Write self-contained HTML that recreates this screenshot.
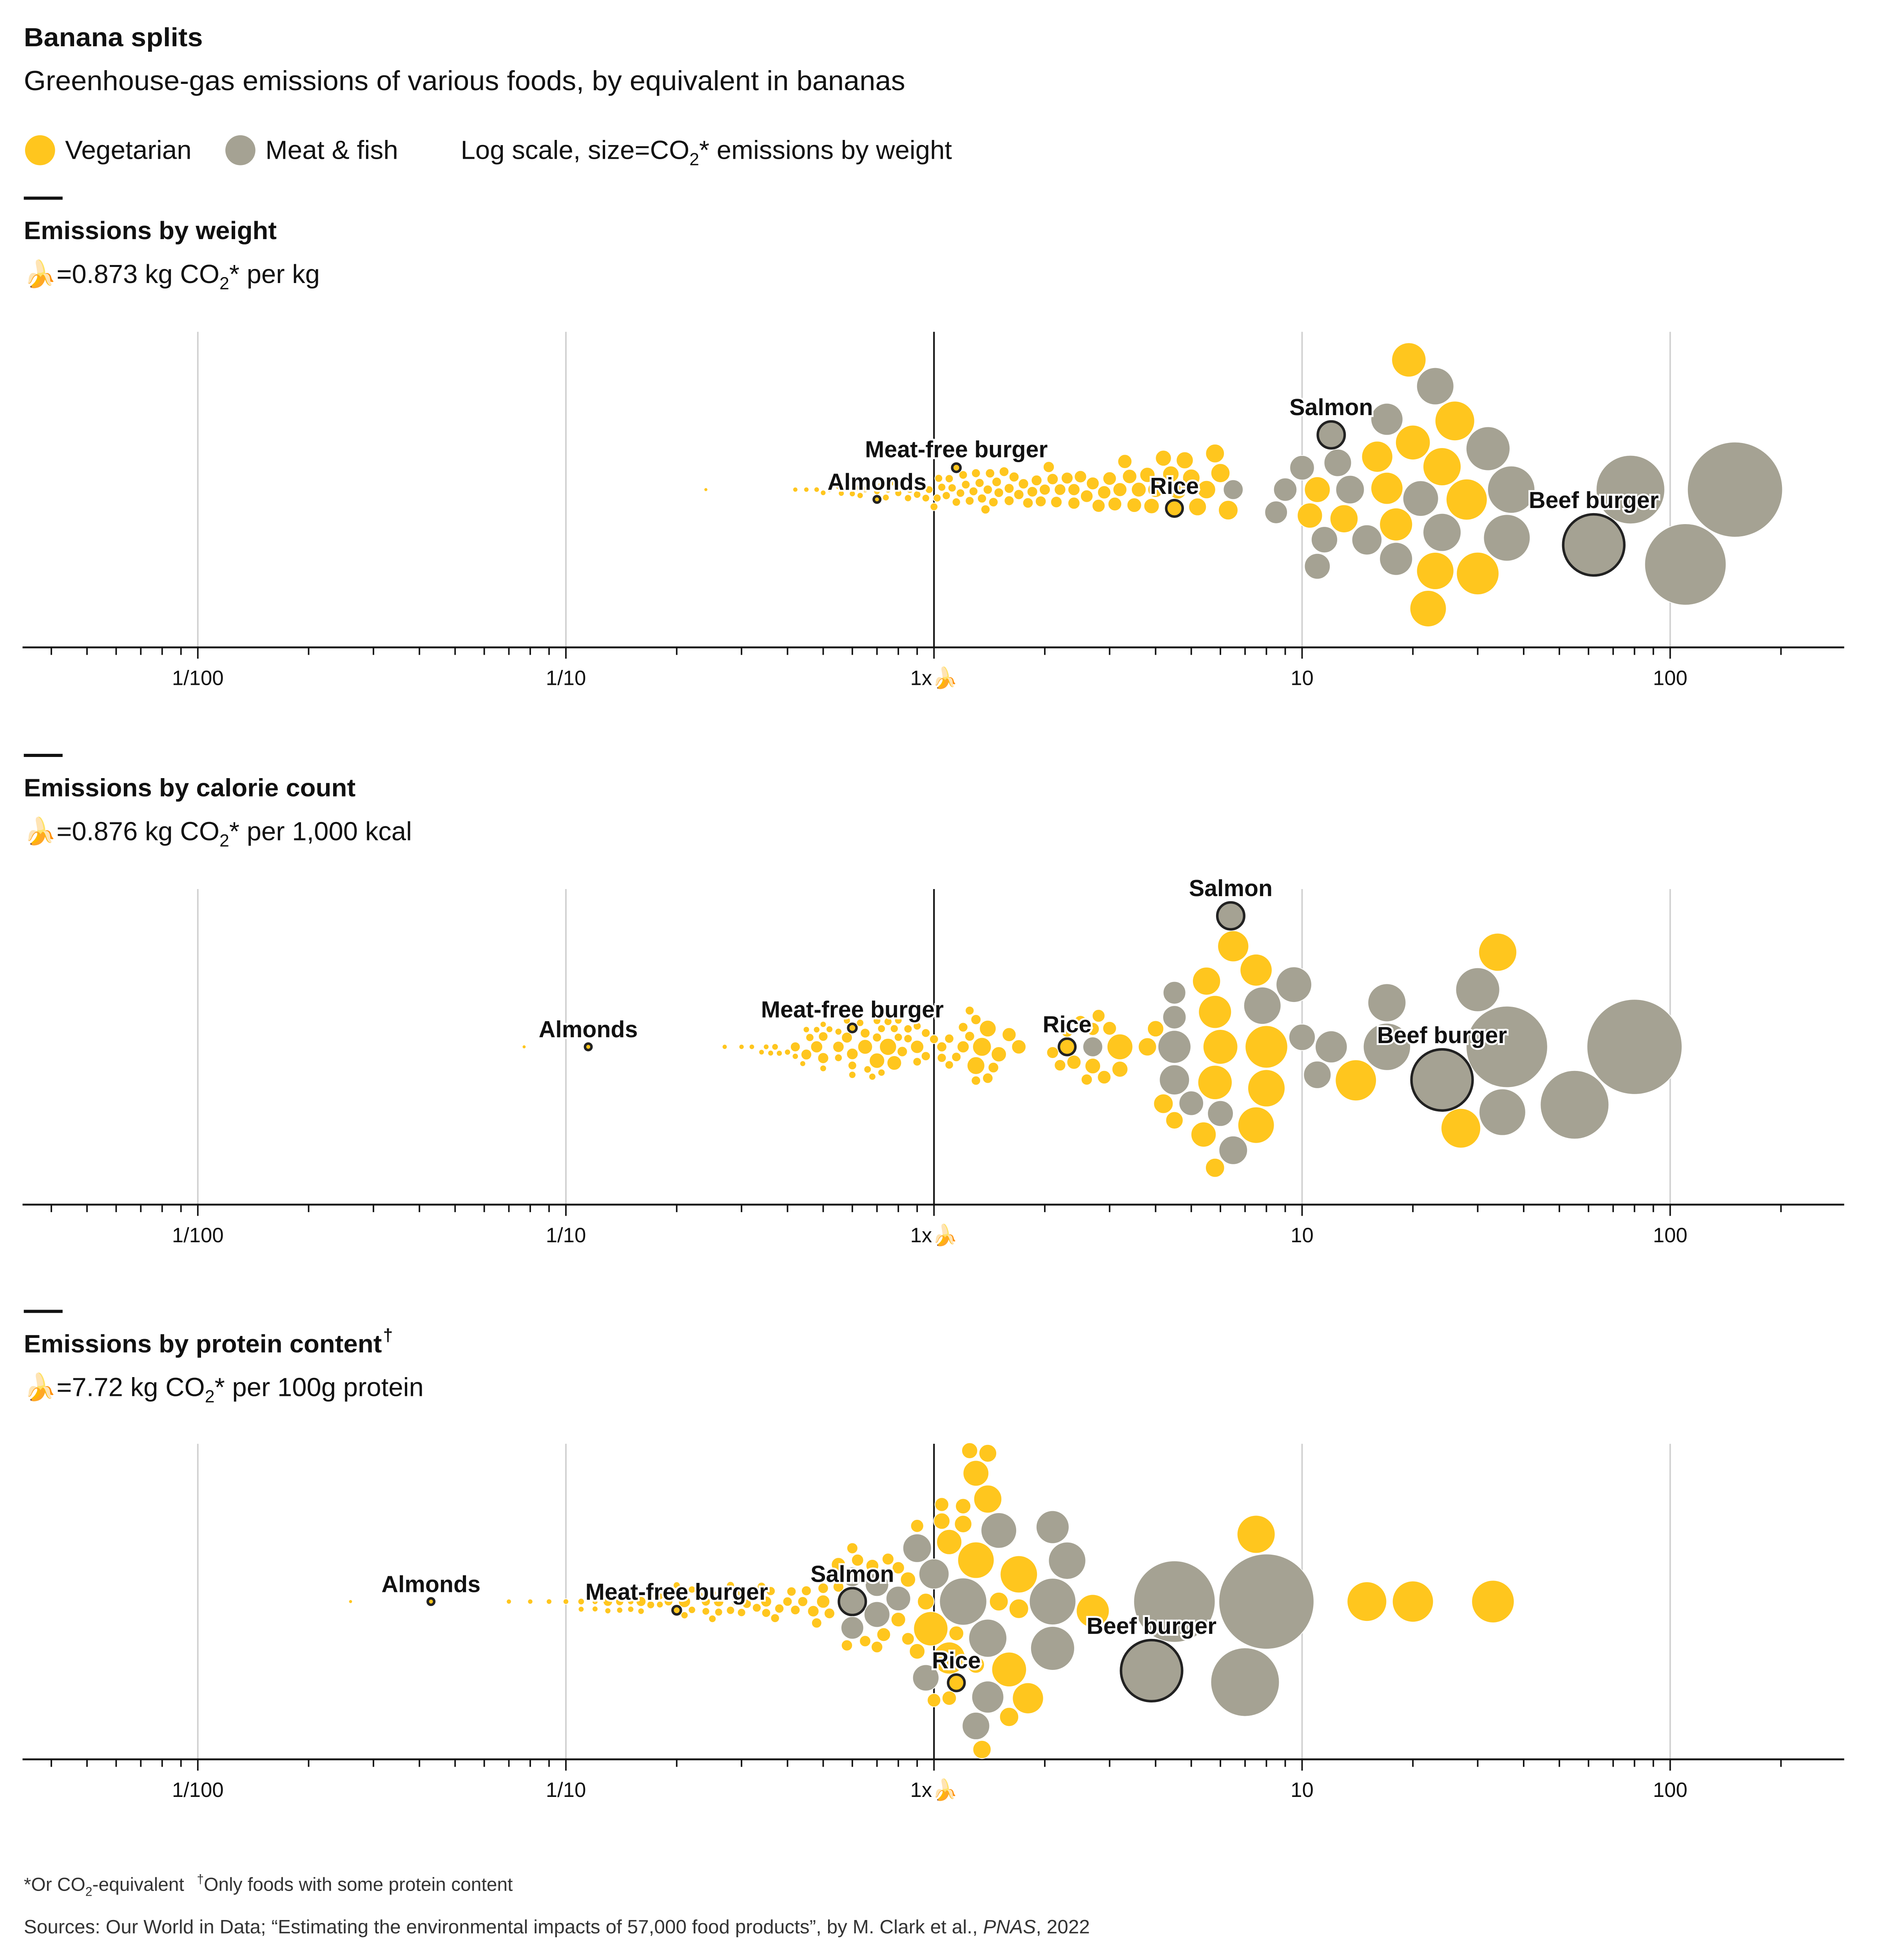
<!DOCTYPE html>
<html><head><meta charset="utf-8">
<style>
html,body{margin:0;padding:0;background:#fff;overflow:hidden;width:4792px;height:5012px;}
svg{display:block;position:absolute;left:0;top:0;font-family:"Liberation Sans Narrow","Liberation Sans",sans-serif;}
.t{font-weight:bold;fill:#111;}
</style></head>
<body>
<svg id="chart" width="4792" height="5012" viewBox="0 0 1500 1569" preserveAspectRatio="none" xmlns="http://www.w3.org/2000/svg" overflow="hidden">
<text x="19" y="37" class="t" font-size="21" textLength="143" lengthAdjust="spacingAndGlyphs">Banana splits</text>
<text x="19" y="72" font-size="22" fill="#111" textLength="704" lengthAdjust="spacingAndGlyphs">Greenhouse-gas emissions of various foods, by equivalent in bananas</text>
<g>
<circle cx="32" cy="120" r="12" fill="#FFC61E"/>
<text x="52" y="127" font-size="21" fill="#111" textLength="101" lengthAdjust="spacingAndGlyphs">Vegetarian</text>
<circle cx="192" cy="120" r="12" fill="#A5A293"/>
<text x="212" y="127" font-size="21" fill="#111" textLength="106" lengthAdjust="spacingAndGlyphs">Meat &amp; fish</text>
<text x="368" y="127" font-size="21" fill="#111">Log scale, size=CO<tspan font-size="14" dy="5">2</tspan><tspan dy="-5">* emissions by weight</tspan></text>
</g>
<g id="panels"></g>
<text x="19" y="1510" font-size="15" fill="#333">*Or CO<tspan font-size="10" dy="4">2</tspan><tspan dy="-4">-equivalent    </tspan><tspan dx="6" font-size="10" dy="-6">†</tspan><tspan dy="6">Only foods with some protein content</tspan></text>
<text x="19" y="1544" font-size="15.5" fill="#333">Sources: Our World in Data; “Estimating the environmental impacts of 57,000 food products”, by M. Clark et al., <tspan font-style="italic">PNAS</tspan>, 2022</text>
</svg>
<script>
const vegWeight = [0.24,0.42,0.45,0.48,0.52,0.55,0.58,0.6,0.62,0.65,0.68,0.72,0.75,0.78,0.8,0.85,0.88,0.9,0.95,1.0,1.02,1.05,1.1,1.12,1.2,1.25,1.3,1.35,1.4,1.45,1.5,1.6,1.7,1.8,1.9,2.0,2.1,2.2,2.3,2.5,2.6,2.8,3.0,3.2,3.4,3.6,3.9,4.2,4.8,5.2,5.8,6.0,6.3,10.5,11,13,16,17,18,19.5,20,22,23,24,26,28,30,
 0.5,0.56,0.63,0.7,0.74,0.82,0.86,0.92,0.97,1.03,1.08,1.15,1.18,1.22,1.28,1.33,1.38,1.42,1.48,1.55,1.65,1.75,1.85,1.95,2.05,2.15,2.4,2.7,2.9,3.1,3.3,3.5,3.8,4.0,4.4,4.6,5.0,5.5,1.6,2.4];
const vegCalorie = [0.077,0.27,0.3,0.32,0.35,0.36,0.38,0.4,0.42,0.45,0.48,0.5,0.52,0.55,0.58,0.6,0.63,0.66,0.7,0.72,0.75,0.78,0.8,0.85,0.9,0.95,1.0,1.05,1.1,1.15,1.2,1.25,1.3,1.4,0.45,0.5,0.55,0.6,2.1,2.3,2.5,2.7,2.9,1.6,1.7,0.65,0.7,3.2,0.75,1.3,1.35,5.8,4.2,5.4,3.2,5.5,6.5,7.5,5.8,5.8,6.0,7.5,8.0,34,27,14,8,
 0.34,0.44,0.5,0.37,0.62,0.68,0.72,0.8,0.55,0.9,0.46,0.85,1.1,0.6,1.25,0.7,0.95,1.3,0.5,0.65,1.05,0.82,1.45,0.58,2.6,2.2,1.2,2.8,0.9,3.0,2.4,0.78,1.5,2.7,4.0,1.4,4.5,3.8,0.42,0.48];
const vegProtein = [0.026,0.07,0.08,null,0.1,0.11,0.12,0.13,0.14,0.15,0.16,0.17,0.18,0.19,0.2,0.21,0.22,0.23,0.24,0.25,0.26,0.27,0.28,0.3,0.32,0.33,0.35,0.36,0.38,0.4,0.42,0.45,0.48,0.5,0.55,0.6,0.65,0.7,0.75,0.8,0.85,0.9,1.0,1.05,1.1,1.15,1.2,1.25,1.3,1.4,1.5,1.6,1.7,1.1,1.3,1.4,1.8,1.1,2.7,0.98,1.6,1.3,1.7,7.5,15,20,33,
 0.09,0.12,0.15,0.11,0.18,0.2,0.22,0.25,0.17,0.28,0.14,0.3,0.34,0.19,0.37,0.24,0.31,0.41,0.13,0.29,0.44,0.26,0.52,0.35,0.58,0.47,0.62,0.68,0.5,0.73,0.55,0.8,0.85,0.9,1.05,0.95,1.2,1.35,0.16,0.21];
const meatWeight = [6.5,8.5,9,10,11,11.5,12.5,13.5,15,17,18,21,23,24,32,36,37,78,110,150];
const meatCalorie = [2.7,4.5,4.5,5,6,10,11,6.5,4.5,12,4.5,9.5,7.8,17,30,35,17,55,36,80];
const meatProtein = [0.6,0.6,0.7,0.8,0.7,0.95,1.3,0.9,1.0,1.4,2.1,1.5,2.3,1.4,2.1,2.1,1.2,7,4.5,8];
const namedFoods = ["Almonds","Meat-free burger","Rice","Salmon","Beef burger"];
const namedType = ["v","v","v","m","m"];
const namedWeight = [0.7,1.15,4.5,12,62];
const namedCalorie = [0.115,0.6,2.3,6.4,24];
const namedProtein = [0.043,0.2,1.15,0.6,3.9];
const tickValues = [0.01,0.1,1,10,100];
const tickLabels = ["1/100","1/10","1x🍌","10","100"];

const NS="http://www.w3.org/2000/svg";
const X0=746, DEC=294;
function xScale(v){return X0+Math.log10(v)*DEC;}
function rScale(w){return 3.1*Math.sqrt(w);}
function mk(tag,attrs,parent){const e=document.createElementNS(NS,tag);for(const k in attrs)e.setAttribute(k,attrs[k]);parent.appendChild(e);return e;}

const foods=[];
vegWeight.forEach((w,i)=>foods.push({w,c:vegCalorie[i],p:vegProtein[i],t:"v"}));
meatWeight.forEach((w,i)=>foods.push({w,c:meatCalorie[i],p:meatProtein[i],t:"m"}));
namedFoods.forEach((n,i)=>foods.push({w:namedWeight[i],c:namedCalorie[i],p:namedProtein[i],t:namedType[i],name:n}));

const panels=[
 {key:"w",top:265,axis:517,mark:158,title:"Emissions by weight",tl:202,sub:"=0.873 kg CO",sub2:"* per kg"},
 {key:"c",top:710,axis:962,mark:603,title:"Emissions by calorie count",tl:265,sub:"=0.876 kg CO",sub2:"* per 1,000 kcal"},
 {key:"p",top:1153,axis:1405,mark:1047,title:"Emissions by protein content",tl:286,sub:"=7.72 kg CO",sub2:"* per 100g protein",dag:true}
];
const root=document.getElementById("panels");
panels.forEach((P,pi)=>{
 const g=mk("g",{},root);
 
 
 const m=mk("rect",{x:19,y:P.mark-1,width:31,height:2.5,fill:"#111"},g);
 
 
 const tt=mk("text",{x:19,y:P.mark+33,"font-size":20,class:"t",textLength:P.tl,lengthAdjust:"spacingAndGlyphs"},g);
 
 
 tt.textContent=P.title;
 if(P.dag){const t2=mk("text",{x:19+P.tl+1,y:P.mark+24,"font-size":14,class:"t"},g);t2.textContent="†";
  
  }
 const st=mk("text",{x:19,y:P.mark+68,"font-size":21,fill:"#111"},g);
 
 
 const s0=mk("tspan",{},st);s0.textContent="🍌"+P.sub;
 const s1=mk("tspan",{"font-size":14,dy:5},st);s1.textContent="2";
 const s2=mk("tspan",{dy:-5},st);s2.textContent=P.sub2;
 tickValues.forEach((v,i)=>{
  const x=xScale(v);
  const gl=mk("line",{x1:x,x2:x,y1:P.top,y2:P.axis,stroke:v===1?"#111":"#d0d0d0","stroke-width":v===1?1.3:1.2},g);
  
  
  const tl=mk("text",{x:x,y:P.axis+30,"font-size":16.5,"text-anchor":"middle",fill:"#111"},g);
  
  
  tl.textContent=tickLabels[i];
 });
 const ax=mk("line",{x1:18,x2:1473,y1:P.axis,y2:P.axis,stroke:"#111","stroke-width":1.5},g);
 
 
 for(let e=-3;e<=2;e++)for(let k=1;k<=9;k++){
  const x=xScale(k*Math.pow(10,e));
  if(x<18||x>1474)continue;
  const tk=mk("line",{x1:x,x2:x,y1:P.axis,y2:P.axis+(k===1?9:6),stroke:"#111","stroke-width":1.2},g);
  
  
 }
 const cy0=(P.top+P.axis)/2;
 const items=foods.filter(f=>f[P.key]!=null).map(f=>({f,x:xScale(f[P.key]),r:rScale(f.w)}));
 items.sort((a,b)=>b.r-a.r);
 const placed=[];
 items.forEach(it=>{
  const cands=[0];
  placed.forEach(q=>{const d=it.r+q.r+1.2;const dx=it.x-q.x;if(Math.abs(dx)<d){const dy=Math.sqrt(d*d-dx*dx);cands.push(q.y+dy,q.y-dy);}});
  cands.sort((a,b)=>Math.abs(a)-Math.abs(b));
  for(const y of cands){
   if(placed.every(q=>{const d=it.r+q.r+1.1;return (it.x-q.x)**2+(y-q.y)**2>=d*d-0.01;})){it.y=y;break;}
  }
  placed.push(it);
 });
 placed.forEach(it=>{
  const c=mk("circle",{cx:it.x,cy:cy0+it.y,r:it.r,fill:it.f.t==="v"?"#FFC61E":"#A5A293",stroke:it.f.name?"#222":"#fff","stroke-width":it.f.name?2:0.6},g);
  
  
 });
 placed.filter(it=>it.f.name).forEach(it=>{
  const lb=mk("text",{x:it.x,y:cy0+it.y-it.r-5,"font-size":18.5,"font-weight":"bold","text-anchor":"middle",fill:"#111",stroke:"#fff","stroke-width":3,"paint-order":"stroke"},g);
  
  
  lb.textContent=it.f.name;
 });
});
</script>
</body></html>
